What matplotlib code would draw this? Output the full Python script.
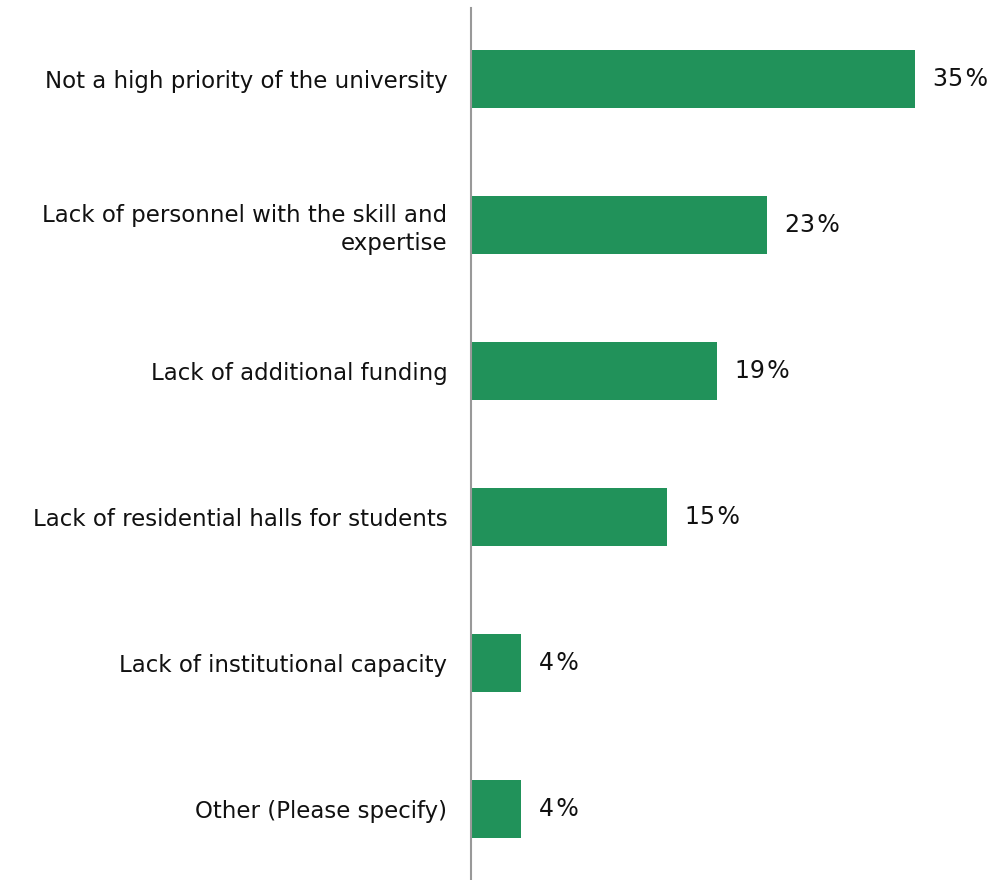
import matplotlib.pyplot as plt
from matplotlib.transforms import offset_copy

categories = [
    "Not a high priority of the university",
    "Lack of personnel with the skill and\nexpertise",
    "Lack of additional funding",
    "Lack of residential halls for students",
    "Lack of institutional capacity",
    "Other (Please specify)",
]
values = [35.0, 23.3, 19.4, 15.4, 3.9, 3.9]

bar_color = "#21925A"

fig = plt.figure(figsize=(9.98, 8.8), dpi=100)
ax = fig.add_axes([0.472, 0.0, 0.528, 0.991])

y = list(range(len(categories)))
ax.barh(y, values, height=0.4, color=bar_color)

ax.set_ylim(len(categories) - 0.514, -0.486)
ax.set_xlim(0, 41.5)

ax.set_yticks(y)
ax.set_yticklabels(categories, fontsize=16.5, color="#111111", ha="right",
                   linespacing=1.28)
ax.tick_params(axis="y", length=0, pad=17)
ax.set_xticks([])

for side in ["top", "right", "bottom"]:
    ax.spines[side].set_visible(False)
ax.spines["left"].set_color("#999999")
ax.spines["left"].set_linewidth(1.5)

trans = offset_copy(ax.transData, fig=fig, x=18, y=0, units="dots")
for yi, v in zip(y, values):
    ax.text(v, yi, f"{round(v)}\u200a%", transform=trans, va="center", ha="left",
            fontsize=17, color="#111111")

fig.savefig("out.png", dpi=100)
